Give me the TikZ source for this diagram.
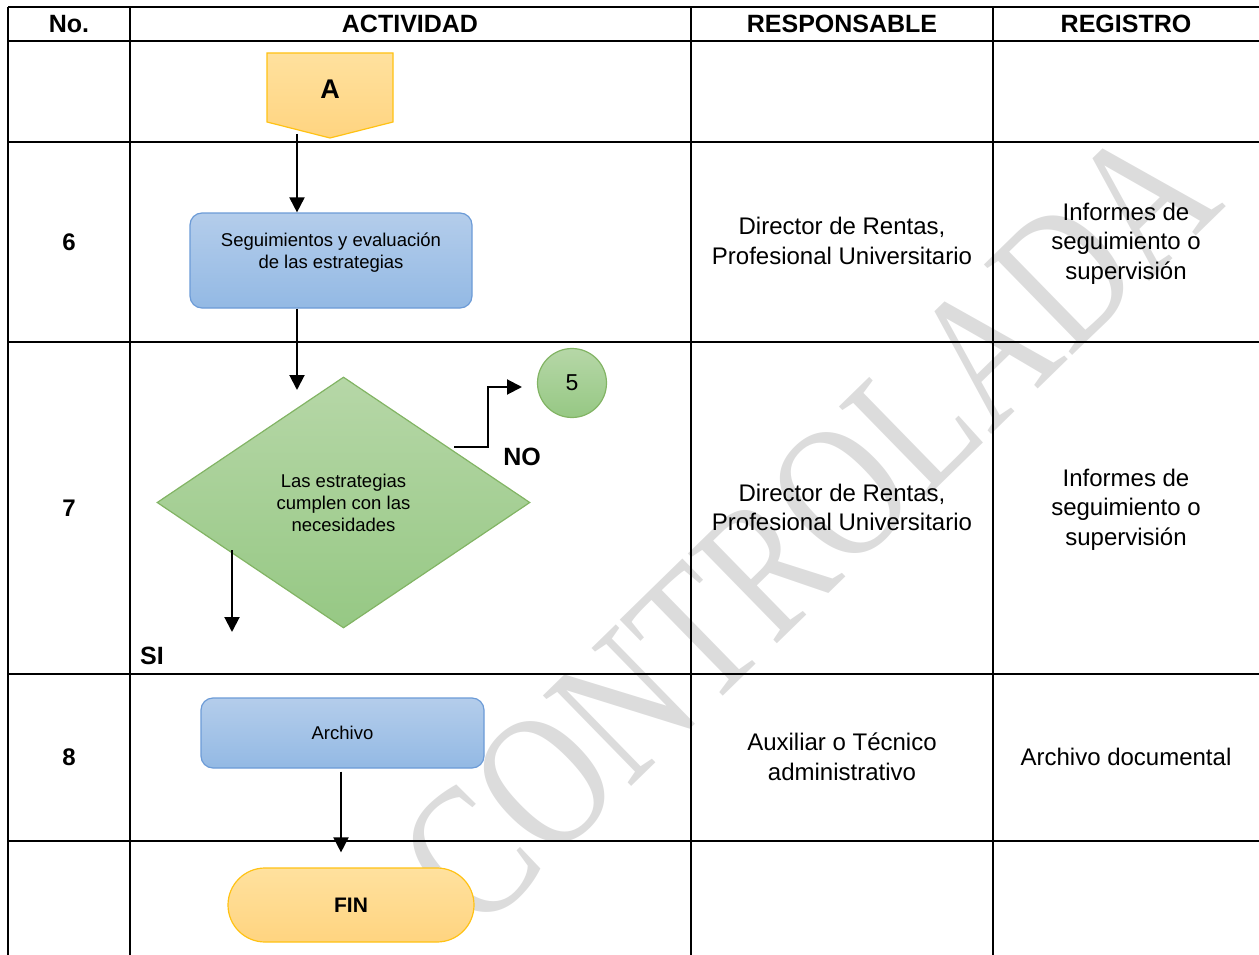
\documentclass[tikz,border=0pt]{standalone}
\usepackage{fontspec}
\usepackage{graphicx}
\setmainfont{Liberation Sans}
\newfontfamily\wmfont{Liberation Serif}
\usetikzlibrary{shapes.geometric,arrows.meta}

\definecolor{ylwTop}{RGB}{255,225,158}
\definecolor{ylwBot}{RGB}{255,212,128}
\definecolor{ylwLine}{RGB}{255,194,20}
\definecolor{bluTop}{RGB}{180,205,235}
\definecolor{bluBot}{RGB}{147,185,228}
\definecolor{bluLine}{RGB}{108,155,215}
\definecolor{grnTop}{RGB}{182,215,167}
\definecolor{grnBot}{RGB}{150,200,132}
\definecolor{grnLine}{RGB}{130,180,100}
\definecolor{wmGray}{RGB}{220,220,220}

\begin{document}
\begin{tikzpicture}[x=1pt,y=-1pt]

  \useasboundingbox (0,0) rectangle (1259,955);
  \clip (0,0) rectangle (1259,955);

  \node[anchor=center,inner sep=0pt] (X) at (0,0) {};

  % node styles
  \tikzstyle{Head}=[font=\bfseries\fontsize{25}{30}\selectfont,inner sep=0pt]
  \tikzstyle{Num}=[font=\bfseries\fontsize{24}{29}\selectfont,inner sep=0pt]
  \tikzstyle{Cell}=[font=\fontsize{24}{29.5}\selectfont,align=center,inner sep=0pt]
  \tikzstyle{Small}=[font=\fontsize{18.5}{21.5}\selectfont,align=center,inner sep=0pt]
  \tikzstyle{Tag}=[font=\bfseries\fontsize{25}{30}\selectfont,inner sep=0pt]

  \tikzstyle{Proc}=[
  shape=rectangle,rounded corners=12pt,
  draw=bluLine,line width=1.2pt,
  top color=bluTop,bottom color=bluBot,
  inner sep=0pt]

  \tikzstyle{Decision}=[
  shape=diamond,
  draw=grnLine,line width=1.2pt,
  top color=grnTop,bottom color=grnBot,
  inner sep=0pt,align=center,
  font=\fontsize{18.5}{22}\selectfont]

  \tikzstyle{Term}=[
  shape=rectangle,rounded corners=37pt,
  draw=ylwLine,line width=1.2pt,
  top color=ylwTop,bottom color=ylwBot,
  inner sep=0pt,
  font=\bfseries\fontsize{21}{25}\selectfont]

  \tikzstyle{Grid}=[line width=2.2pt]
  \tikzstyle{Flow}=[line width=2pt,-{Triangle[length=15pt,width=15pt]}]

  % watermark
  \node[rotate=44.3,text=wmGray,inner sep=0pt,
        font=\wmfont\fontsize{152}{152}\selectfont] (W) at (808,526)
        {\scalebox{1}[1.27]{CONTROLADA}};

  % table
  \draw[Grid] (8,7) -- (1259,7);
  \draw[Grid] (8,41) -- (1259,41);
  \draw[Grid] (8,142) -- (1259,142);
  \draw[Grid] (8,342) -- (1259,342);
  \draw[Grid] (8,674) -- (1259,674);
  \draw[Grid] (8,841) -- (1259,841);
  \draw[Grid] (8,7) -- (8,955);
  \draw[Grid] (130,7) -- (130,955);
  \draw[Grid] (691,7) -- (691,955);
  \draw[Grid] (993,7) -- (993,955);

  \draw (X) node[Head] (H1) at +(69,24) {No.};
  \draw (X) node[Head] (H2) at +(410,24) {ACTIVIDAD};
  \draw (X) node[Head] (H3) at +(842,24) {RESPONSABLE};
  \draw (X) node[Head] (H4) at +(1126,24) {REGISTRO};

  \draw (X) node[Num] (N6) at +(69,242) {6};
  \draw (X) node[Num] (N7) at +(69,508) {7};
  \draw (X) node[Num] (N8) at +(69,757.5) {8};

  \draw (X) node[Cell] (R6) at +(842,241) {Director de Rentas,\\Profesional Universitario};
  \draw (X) node[Cell] (R7) at +(842,507.5) {Director de Rentas,\\Profesional Universitario};
  \draw (X) node[Cell] (R8) at +(842,757) {Auxiliar o Técnico\\administrativo};

  \draw (X) node[Cell] (G6) at +(1126,243.5) {Informes de\\seguimiento o\\supervisión};
  \draw (X) node[Cell] (G7) at +(1126,509.5) {Informes de\\seguimiento o\\supervisión};
  \draw (X) node[Cell] (G8) at +(1126,757) {Archivo documental};

  % flow
  \shade[draw=ylwLine,line width=1.2pt,top color=ylwTop,bottom color=ylwBot]
    (267,53) -- (393,53) -- (393,122) -- (330,138) -- (267,122) -- cycle;
  \draw (X) node[font=\bfseries\fontsize{27}{30}\selectfont,inner sep=0pt] (A) at +(330,89) {A};

  \draw (X) node[Proc,minimum width=282,minimum height=95] (S) at +(331,260.5) {};
  \draw (X) node[Small] (St) at +(331,252.5) {Seguimientos y evaluación\\de las estrategias};

  \draw (X) node[Decision,minimum width=373,minimum height=251] (D) at +(343.5,502.5)
    {Las estrategias\\cumplen con las\\necesidades};

  \draw (X) node[shape=circle,draw=grnLine,line width=1.2pt,top color=grnTop,bottom color=grnBot,
    minimum size=69,inner sep=0pt,font=\fontsize{23}{26}\selectfont] (C5) at +(572,383) {5};

  \draw (X) node[Proc,Small,minimum width=283,minimum height=70] (R) at +(342.5,733) {Archivo};
  \draw (X) node[Term,minimum width=246,minimum height=74] (F) at +(351,905) {FIN};

  \draw (X) node[Tag] (NO) at +(522,457) {NO};
  \draw (X) node[Tag] (SI) at +(152,656) {SI};

  \coordinate (a0) at (297,134);
  \coordinate (d0) at (297,390);
  \coordinate (n0) at (454,447);
  \coordinate (n1) at (522,387);
  \coordinate (s0) at (232,550);
  \coordinate (s1) at (232,632);

  \draw[Flow] (a0) -- (a0 |- S.north);
  \draw[Flow] (S.south -| a0) -- (d0);
  \draw[Flow] (n0) -- ++(34,0) |- (n1);
  \draw[Flow] (s0) -- (s1);
  \draw[Flow] ([xshift=-1.5pt,yshift=-3pt]R.south) -- ([xshift=-10pt,yshift=15pt]F.north);

\end{tikzpicture}
\end{document}
